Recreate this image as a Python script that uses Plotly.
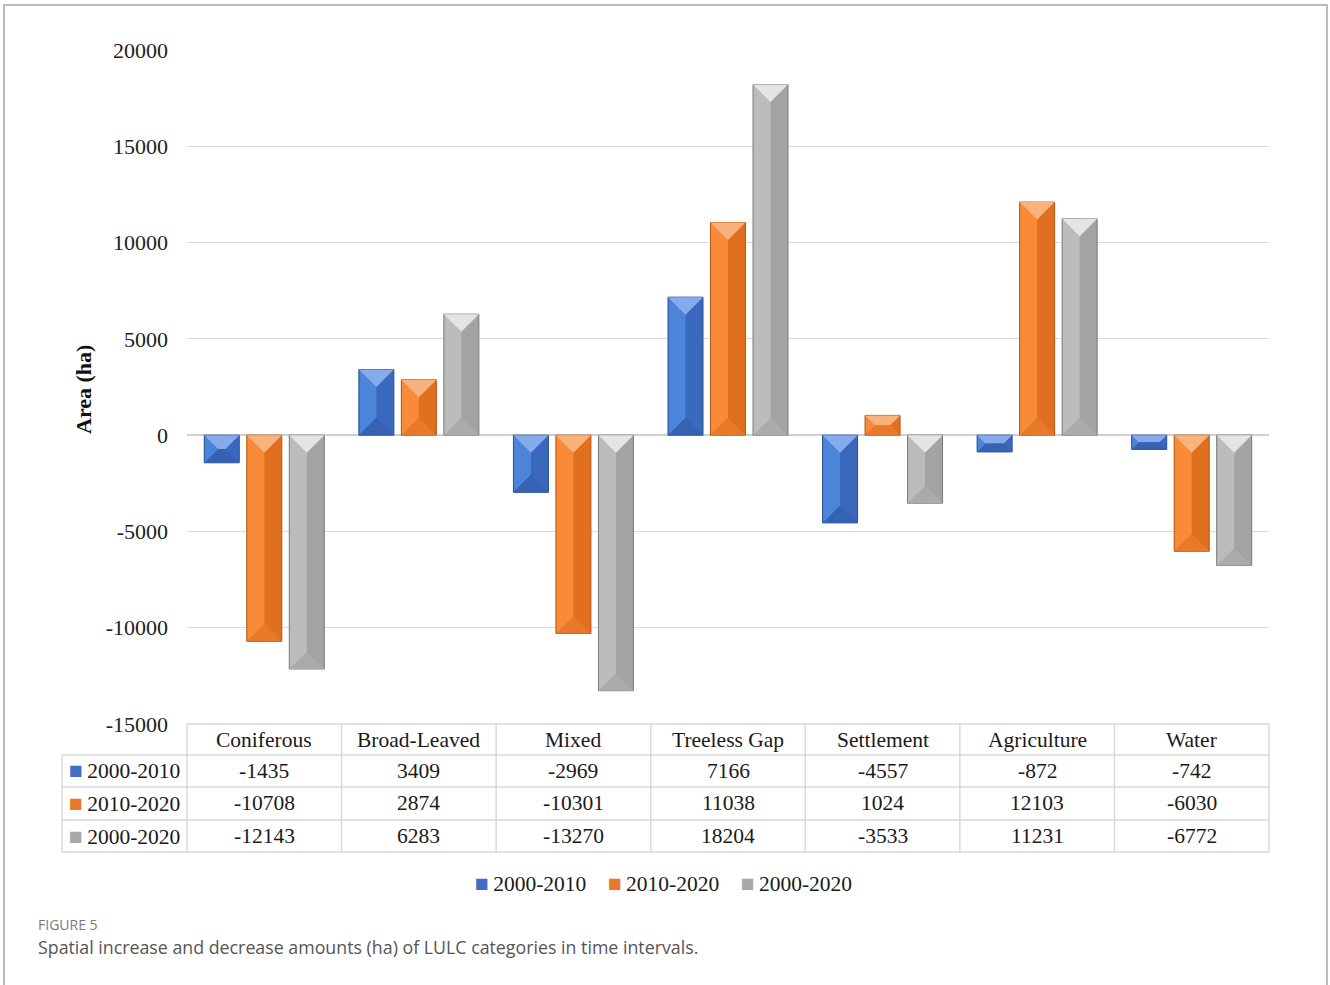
import plotly.graph_objects as go

categories = ["Coniferous", "Broad-Leaved", "Mixed", "Treeless Gap", "Settlement", "Agriculture", "Water"]
series_names = ["2000-2010", "2010-2020", "2000-2020"]
v_2000_2010 = [-1435, 3409, -2969, 7166, -4557, -872, -742]
v_2010_2020 = [-10708, 2874, -10301, 11038, 1024, 12103, -6030]
v_2000_2020 = [-12143, 6283, -13270, 18204, -3533, 11231, -6772]
y_tick_vals = [-15000, -10000, -5000, 0, 5000, 10000, 15000, 20000]
y_tick_text = ["-15000", "-10000", "-5000", "0", "5000", "10000", "15000", "20000"]

series_values = [v_2000_2010, v_2010_2020, v_2000_2020]

# style
W_FIG, H_FIG = 1330, 985
PL, PR, PT, PB = 187, 1269, 50, 724
YMIN, YMAX = -15000, 20000
col_px = (PR - PL) / len(categories)
ppu = (PB - PT) / (YMAX - YMIN)

BAR_W = 35 / col_px
SLOT = 42.5 / col_px

styles = [
    dict(right="#3a68bd", left="#4c84da", top="#86abec", bot="#3562b2", line="#2b4f8f", legend="#3f6fc4"),
    dict(right="#e0701f", left="#f88a38", top="#fab27c", bot="#e67a2a", line="#b45512", legend="#e9782a"),
    dict(right="#a3a3a3", left="#bcbcbc", top="#e4e4e4", bot="#ababab", line="#7a7a7a", legend="#a8a8a8"),
]

def px_x(px):
    return (px - PL) / (PR - PL)

def px_y(py):
    return (PB - py) / (PB - PT)

serif = "Liberation Serif, Times New Roman, serif"
sans = "Open Sans, Noto Sans, sans-serif"

fig = go.Figure()
idx = list(range(len(categories)))

for i, (name, vals) in enumerate(zip(series_names, series_values)):
    st = styles[i]
    c_off = (i - 1) * SLOT
    # base (right face)
    fig.add_trace(go.Bar(x=idx, y=vals, name=name, width=BAR_W, offset=c_off - BAR_W / 2,
                         marker=dict(color=st["right"], line=dict(width=0)),
                         showlegend=False, hoverinfo="skip"))
    # left face
    fig.add_trace(go.Bar(x=idx, y=vals, width=BAR_W / 2, offset=c_off - BAR_W / 2,
                         marker=dict(color=st["left"], line=dict(width=0)),
                         showlegend=False, hoverinfo="skip"))
    # bevel faces (top light, bottom slightly darker)
    tx, ty, bx, by = [], [], [], []
    h = BAR_W / 2
    h_px = h * col_px
    for k, v in enumerate(vals):
        c = k + c_off
        d_px = min(h_px, abs(v) * ppu / 2)
        dy = d_px / ppu
        dx = d_px / col_px
        ytop = max(0, v)
        ybot = min(0, v)
        tx += [c - h, c + h, c + h - dx, c - h + dx, c - h, None]
        ty += [ytop, ytop, ytop - dy, ytop - dy, ytop, None]
        bx += [c - h, c + h, c + h - dx, c - h + dx, c - h, None]
        by += [ybot, ybot, ybot + dy, ybot + dy, ybot, None]
    fig.add_trace(go.Scatter(x=tx, y=ty, mode="lines", fill="toself", fillcolor=st["top"],
                             line=dict(width=0), showlegend=False, hoverinfo="skip"))
    fig.add_trace(go.Scatter(x=bx, y=by, mode="lines", fill="toself", fillcolor=st["bot"],
                             line=dict(width=0), showlegend=False, hoverinfo="skip"))

# outlines
for i, (name, vals) in enumerate(zip(series_names, series_values)):
    st = styles[i]
    c_off = (i - 1) * SLOT
    fig.add_trace(go.Bar(x=idx, y=vals, name=name, width=BAR_W, offset=c_off - BAR_W / 2,
                         marker=dict(color="rgba(0,0,0,0)", line=dict(width=1, color=st["line"])),
                         showlegend=False, hoverinfo="skip"))

shapes = []
annotations = []
grid_c = "#d9d9d9"
TFONT = 21.5
SQ = "<span style='color:{c}; font-size:23px'>■</span>&#8201;"

# table horizontal lines
row_y = [724, 755, 787, 820, 852]
for j, yy in enumerate(row_y):
    x0 = PL if j == 0 else 62
    shapes.append(dict(type="line", xref="paper", yref="paper", x0=px_x(x0), x1=px_x(PR),
                       y0=px_y(yy), y1=px_y(yy), line=dict(color=grid_c, width=1.5), layer="below"))
# vertical lines
shapes.append(dict(type="line", xref="paper", yref="paper", x0=px_x(62), x1=px_x(62),
                   y0=px_y(755), y1=px_y(852), line=dict(color=grid_c, width=1.5)))
for k in range(len(categories) + 1):
    xx = PL + k * col_px
    shapes.append(dict(type="line", xref="paper", yref="paper", x0=px_x(xx), x1=px_x(xx),
                       y0=px_y(724), y1=px_y(852), line=dict(color=grid_c, width=1.5)))

# header texts
for k, cat in enumerate(categories):
    annotations.append(dict(x=k, xref="x", y=px_y(740), yref="paper", text=cat, showarrow=False,
                            font=dict(family=serif, size=TFONT, color="#1a1a1a"),
                            xanchor="center", yanchor="middle"))
# rows
row_centers = [771, 803, 836]
for i, (name, vals) in enumerate(zip(series_names, series_values)):
    annotations.append(dict(x=px_x(124.5), xref="paper", y=px_y(row_centers[i]), yref="paper",
                            text=SQ.format(c=styles[i]['legend']) + name,
                            showarrow=False, font=dict(family=serif, size=TFONT, color="#1a1a1a"),
                            xanchor="center", yanchor="middle"))
    for k, v in enumerate(vals):
        annotations.append(dict(x=k, xref="x", y=px_y(row_centers[i]), yref="paper", text=str(v),
                                showarrow=False, font=dict(family=serif, size=TFONT, color="#1a1a1a"),
                                xanchor="center", yanchor="middle"))

# legend (as text with coloured squares)
legend_text = "&nbsp;&nbsp;&nbsp;&nbsp;".join(
    SQ.format(c=styles[i]['legend']) + n for i, n in enumerate(series_names))
annotations.append(dict(x=px_x(663), xref="paper", y=px_y(883), yref="paper", text=legend_text,
                        showarrow=False, font=dict(family=serif, size=TFONT, color="#1a1a1a"),
                        xanchor="center", yanchor="middle"))

# y-axis title
annotations.append(dict(x=px_x(83), xref="paper", y=px_y(390), yref="paper",
                        text="<b>Area (ha)</b>", textangle=-90, showarrow=False,
                        font=dict(family=serif, size=22, color="#111111"),
                        xanchor="center", yanchor="middle"))

# caption
annotations.append(dict(x=px_x(36), xref="paper", y=px_y(924), yref="paper", text="FIGURE 5",
                        showarrow=False, font=dict(family=sans, size=14, color="#7a7a7a"),
                        xanchor="left", yanchor="middle"))
annotations.append(dict(x=px_x(36), xref="paper", y=px_y(947), yref="paper",
                        text="Spatial increase and decrease amounts (ha) of LULC categories in time intervals.",
                        showarrow=False, font=dict(family=sans, size=17.8, color="#555555"),
                        xanchor="left", yanchor="middle"))

# outer frame
shapes.append(dict(type="rect", xref="paper", yref="paper", x0=px_x(4), x1=px_x(1327),
                   y0=px_y(1100), y1=px_y(5), line=dict(color="#a6a6a6", width=1.5),
                   fillcolor="rgba(0,0,0,0)"))

fig.update_layout(
    width=W_FIG, height=H_FIG,
    margin=dict(l=PL, r=W_FIG - PR, t=PT, b=H_FIG - PB, autoexpand=False),
    paper_bgcolor="white", plot_bgcolor="white",
    barmode="overlay",
    shapes=shapes, annotations=annotations,
    showlegend=False,
    xaxis=dict(range=[-0.5, len(categories) - 0.5], showticklabels=False, showgrid=False,
               zeroline=False, showline=False, ticks=""),
    yaxis=dict(range=[YMIN, YMAX], tickvals=y_tick_vals, ticktext=y_tick_text,
               showgrid=True, gridcolor=grid_c,
               gridwidth=1.2, zeroline=True, zerolinecolor="#cfcfcf", zerolinewidth=2,
               showline=False, ticks="", ticklabelstandoff=18,
               tickfont=dict(family=serif, size=22, color="#222222")),
)

fig.write_html("out.html")
